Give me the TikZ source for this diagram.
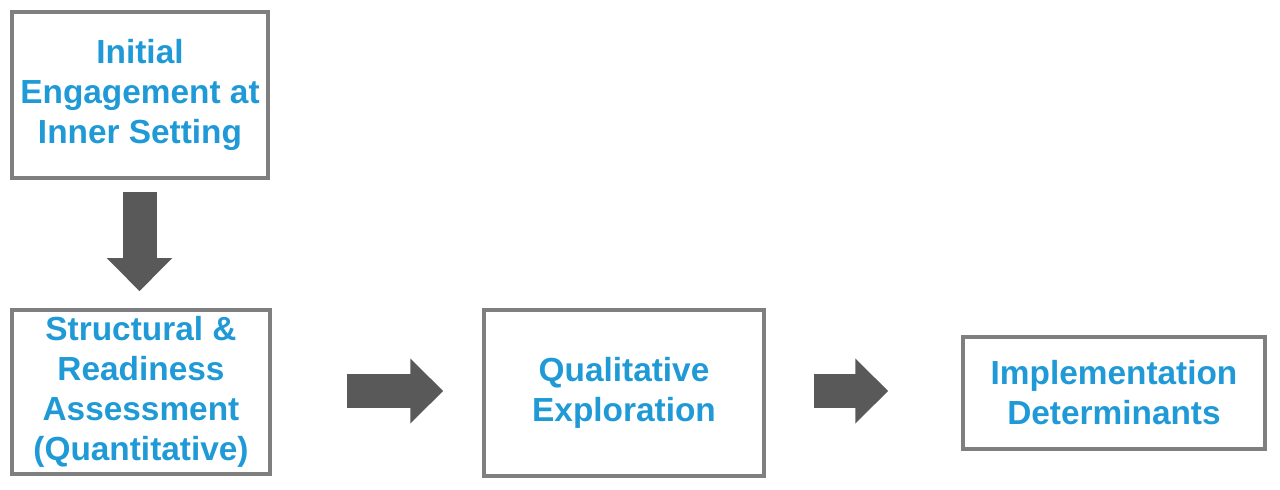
\documentclass[tikz,border=0pt]{standalone}
\usepackage{fontspec}
\setmainfont{Liberation Sans}
\usetikzlibrary{arrows.meta}
\definecolor{boxgray}{HTML}{7F7F7F}
\definecolor{arrowgray}{HTML}{595959}
\definecolor{textblue}{HTML}{1F9AD6}
\tikzset{
  stage/.style={draw=boxgray,line width=0.07cm,align=center,inner sep=0pt,
    text=textblue,font=\bfseries\fontsize{19}{22.7}\selectfont},
  flow/.style={draw=arrowgray,line width=0.68cm,
    -{Triangle[width=1.26cm,length=0.66cm,fill=arrowgray]}}
}
\begin{document}
\begin{tikzpicture}
  \useasboundingbox (0,0) rectangle (25.6,9.78);
  \node (engage) at (2.80,7.88) [stage,minimum width=5.12cm,minimum height=3.32cm]{Initial\\Engagement at\\Inner Setting};
  \node (assess) at (2.82,1.94) [stage,minimum width=5.16cm,minimum height=3.28cm]{Structural \&\\Readiness\\Assessment\\(Quantitative)};
  \node (explore) at (12.48,1.92) [stage,minimum width=5.60cm,minimum height=3.32cm]{Qualitative\\Exploration};
  \node (determ) at (22.28,1.92) [stage,minimum width=6.04cm,minimum height=2.24cm]{Implementation\\Determinants};

  \draw [flow,shorten <=0.24cm,shorten >=0.34cm](engage.south -| 2.79,0) -- (assess.north -| 2.79,0);
  \draw [flow,shorten <=1.50cm,shorten >=0.78cm](assess.east |- 0,1.96) -- (explore.west |- 0,1.96);
  \draw [flow,shorten <=0.96cm,shorten >=1.46cm](explore.east |- 0,1.96) -- (determ.west |- 0,1.96);
\end{tikzpicture}
\end{document}
